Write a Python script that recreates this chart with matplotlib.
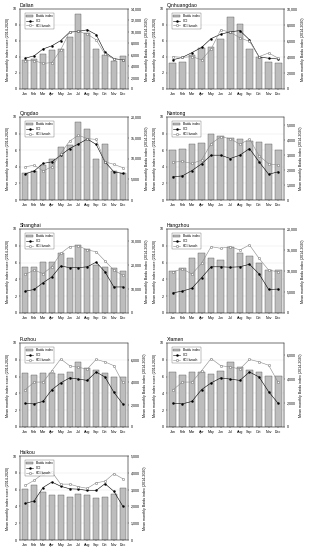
import numpy as np
import matplotlib
matplotlib.use("Agg")
import matplotlib.pyplot as plt
from matplotlib.ticker import FuncFormatter, MultipleLocator

months = ['Jan', 'Feb', 'Mar', 'Apr', 'May', 'Jun', 'Jul', 'Aug', 'Sep', 'Oct', 'Nov', 'Dec']
cities = ['Dalian', 'Qinhuangdao', 'Qingdao', 'Nantong', 'Shanghai',
          'Hangzhou', 'Fuzhou', 'Xiamen', 'Haikou']

# Baidu index (right axis)
baidu_dalian = [5040, 5180, 6160, 6860, 7000, 9170, 13160, 9800, 7000, 6020, 4900, 5740]
baidu_qinhuangdao = [3250, 3350, 4250, 5100, 5300, 6200, 9050, 8150, 5000, 4050, 3350, 3250]
baidu_qingdao = [6400, 7000, 8400, 10000, 12700, 13200, 18700, 17100, 9900, 13600, 7000, 6400]
baidu_nantong = [3300, 3410, 3710, 3800, 4350, 4260, 4130, 4020, 3900, 3850, 3690, 3300]
baidu_shanghai = [19250, 19080, 21180, 21350, 24850, 22750, 28180, 26600, 19950, 19250, 18550, 17680]
baidu_hangzhou = [9900, 10700, 13000, 14200, 13000, 12600, 15600, 14200, 13600, 12000, 10300, 10200]
baidu_fuzhou = [4800, 4650, 4800, 4800, 4760, 4950, 5780, 5250, 5060, 4800, 4500, 4500]
baidu_xiamen = [4550, 4340, 4550, 4550, 4450, 4660, 5430, 4970, 4760, 4550, 4240, 4240]
baidu_haikou = [3030, 3250, 2880, 2680, 2650, 2530, 2750, 2650, 2480, 2530, 2730, 3100]

# CCI (left axis)
cci_dalian = [3.85, 4.15, 5.0, 5.4, 6.05, 7.1, 7.2, 7.4, 6.8, 4.6, 3.8, 3.65]
cci_qinhuangdao = [3.65, 3.95, 4.55, 5.2, 6.3, 6.85, 7.15, 7.3, 6.15, 4.0, 3.85, 3.75]
cci_qingdao = [3.15, 3.5, 4.4, 4.6, 5.4, 6.2, 6.75, 7.35, 6.7, 4.6, 3.4, 3.2]
cci_nantong = [2.8, 2.9, 3.55, 4.35, 5.4, 5.4, 5.0, 5.4, 6.2, 4.6, 3.1, 3.4]
cci_shanghai = [2.6, 2.8, 3.6, 4.3, 5.6, 5.4, 5.4, 5.5, 6.05, 4.9, 3.1, 3.1]
cci_hangzhou = [2.4, 2.6, 2.95, 4.2, 5.5, 5.5, 5.45, 5.5, 5.8, 4.65, 2.8, 2.85]
cci_fuzhou = [2.8, 2.75, 3.05, 4.45, 5.25, 5.85, 5.7, 5.55, 6.55, 5.95, 4.15, 2.75]
cci_xiamen = [2.85, 2.75, 3.05, 4.45, 5.25, 5.85, 5.7, 5.55, 6.55, 5.95, 4.2, 2.8]
cci_haikou = [4.35, 4.65, 6.25, 6.9, 6.4, 6.1, 6.05, 5.9, 5.9, 6.7, 5.8, 4.05]

# HCI-beach (left axis)
hci_dalian = [3.55, 3.55, 3.2, 3.3, 4.9, 7.15, 7.2, 6.85, 6.15, 4.35, 3.75, 3.65]
hci_qinhuangdao = [4.05, 3.95, 4.05, 3.65, 5.0, 7.4, 7.1, 6.4, 5.95, 4.05, 4.5, 3.85]
hci_qingdao = [4.0, 4.2, 3.5, 4.0, 5.6, 7.1, 7.8, 7.4, 7.3, 4.6, 4.3, 3.9]
hci_nantong = [4.55, 4.65, 4.4, 4.8, 6.8, 7.6, 7.4, 6.7, 7.35, 5.35, 4.35, 4.2]
hci_shanghai = [4.6, 5.1, 4.7, 5.5, 7.1, 7.9, 8.0, 7.5, 7.3, 6.2, 5.1, 4.5]
hci_hangzhou = [4.9, 5.25, 4.65, 5.9, 7.9, 7.7, 7.9, 7.5, 8.1, 6.5, 5.1, 4.9]
hci_fuzhou = [4.45, 5.35, 5.35, 6.7, 8.1, 7.3, 7.1, 6.9, 8.05, 7.75, 7.3, 5.3]
hci_xiamen = [4.4, 5.35, 5.35, 6.7, 8.15, 7.3, 7.15, 6.9, 8.05, 7.75, 7.35, 5.3]
hci_haikou = [6.5, 7.1, 7.9, 8.1, 6.65, 6.65, 6.35, 6.15, 6.8, 7.0, 7.9, 7.3]

# right axis range / tick step
right_max = [14000, 10000, 20000, 5500, 35000, 20000, 7500, 7000, 5000]
right_step = [2000, 2000, 5000, 1000, 10000, 5000, 2000, 2000, 1000]

baidu = [baidu_dalian, baidu_qinhuangdao, baidu_qingdao, baidu_nantong, baidu_shanghai,
         baidu_hangzhou, baidu_fuzhou, baidu_xiamen, baidu_haikou]
cci = [cci_dalian, cci_qinhuangdao, cci_qingdao, cci_nantong, cci_shanghai,
       cci_hangzhou, cci_fuzhou, cci_xiamen, cci_haikou]
hci = [hci_dalian, hci_qinhuangdao, hci_qingdao, hci_nantong, hci_shanghai,
       hci_hangzhou, hci_fuzhou, hci_xiamen, hci_haikou]

plt.rcParams['font.family'] = ['Liberation Sans', 'DejaVu Sans']

fig = plt.figure(figsize=(3.12, 5.5), dpi=100)
W, H = 312.0, 550.0
cols = [(20, 128), (167, 284)]
rows = [(9, 89), (117, 200), (229, 313), (343, 427), (456, 540)]

fs = 2.6
x = np.arange(12)
for i, city in enumerate(cities):
    r, c = divmod(i, 2)
    x0, x1 = cols[c]
    y0, y1 = rows[r]
    ax = fig.add_axes([x0 / W, 1 - y1 / H, (x1 - x0) / W, (y1 - y0) / H])
    ax2 = ax.twinx()
    ax.set_zorder(ax2.get_zorder() + 1)
    ax.patch.set_visible(False)

    ax2.bar(x, baidu[i], width=0.68, color='#bdbdbd', edgecolor='#555555',
            linewidth=0.3, label='Baidu index')
    ax2.set_ylim(0, right_max[i])
    ax2.yaxis.set_major_locator(MultipleLocator(right_step[i]))
    ax2.yaxis.set_major_formatter(FuncFormatter(lambda v, p: f'{int(v):,}'))
    ax2.set_ylabel('Mean monthly Baidu index (2014-2020)', fontsize=fs, labelpad=2)

    ax.plot(x, cci[i], color='black', lw=0.4, marker='o', ms=1.4,
            mfc='black', mec='black', mew=0.3, label='CCI')
    ax.plot(x, hci[i], color='#8a8a8a', lw=0.4, marker='o', ms=1.6,
            mfc='white', mec='#555555', mew=0.3, label='HCI-beach')
    ax.set_ylim(0, 10)
    ax.set_xlim(-0.6, 11.6)
    ax.yaxis.set_major_locator(MultipleLocator(2))
    ax.set_xticks(x)
    ax.set_xticklabels(months)
    ax.set_ylabel('Mean monthly index score (2014-2020)', fontsize=fs, labelpad=2)
    ax2.set_axisbelow(True)
    ax2.grid(False)
    for yy in range(2, 10, 2):
        ax2.axhline(yy / 10 * right_max[i], color='#e4e4e4', lw=0.3, zorder=0)

    for a in (ax, ax2):
        a.tick_params(labelsize=fs, length=1, width=0.3, pad=1)
        for s in a.spines.values():
            s.set_linewidth(0.3)
            s.set_color('#444444')

    ax.text(0.0, 1.015, city, transform=ax.transAxes, fontsize=3.6,
            ha='left', va='bottom')

    h1, l1 = ax2.get_legend_handles_labels()
    h2, l2 = ax.get_legend_handles_labels()
    leg = ax.legend(h1 + h2, l1 + l2, loc='upper left', fontsize=2.3,
                    frameon=True, fancybox=False, edgecolor='#444444',
                    borderpad=0.4, handlelength=2.2, labelspacing=0.2,
                    bbox_to_anchor=(0.03, 0.97))
    leg.get_frame().set_linewidth(0.3)

fig.savefig('out.png', dpi=100)
